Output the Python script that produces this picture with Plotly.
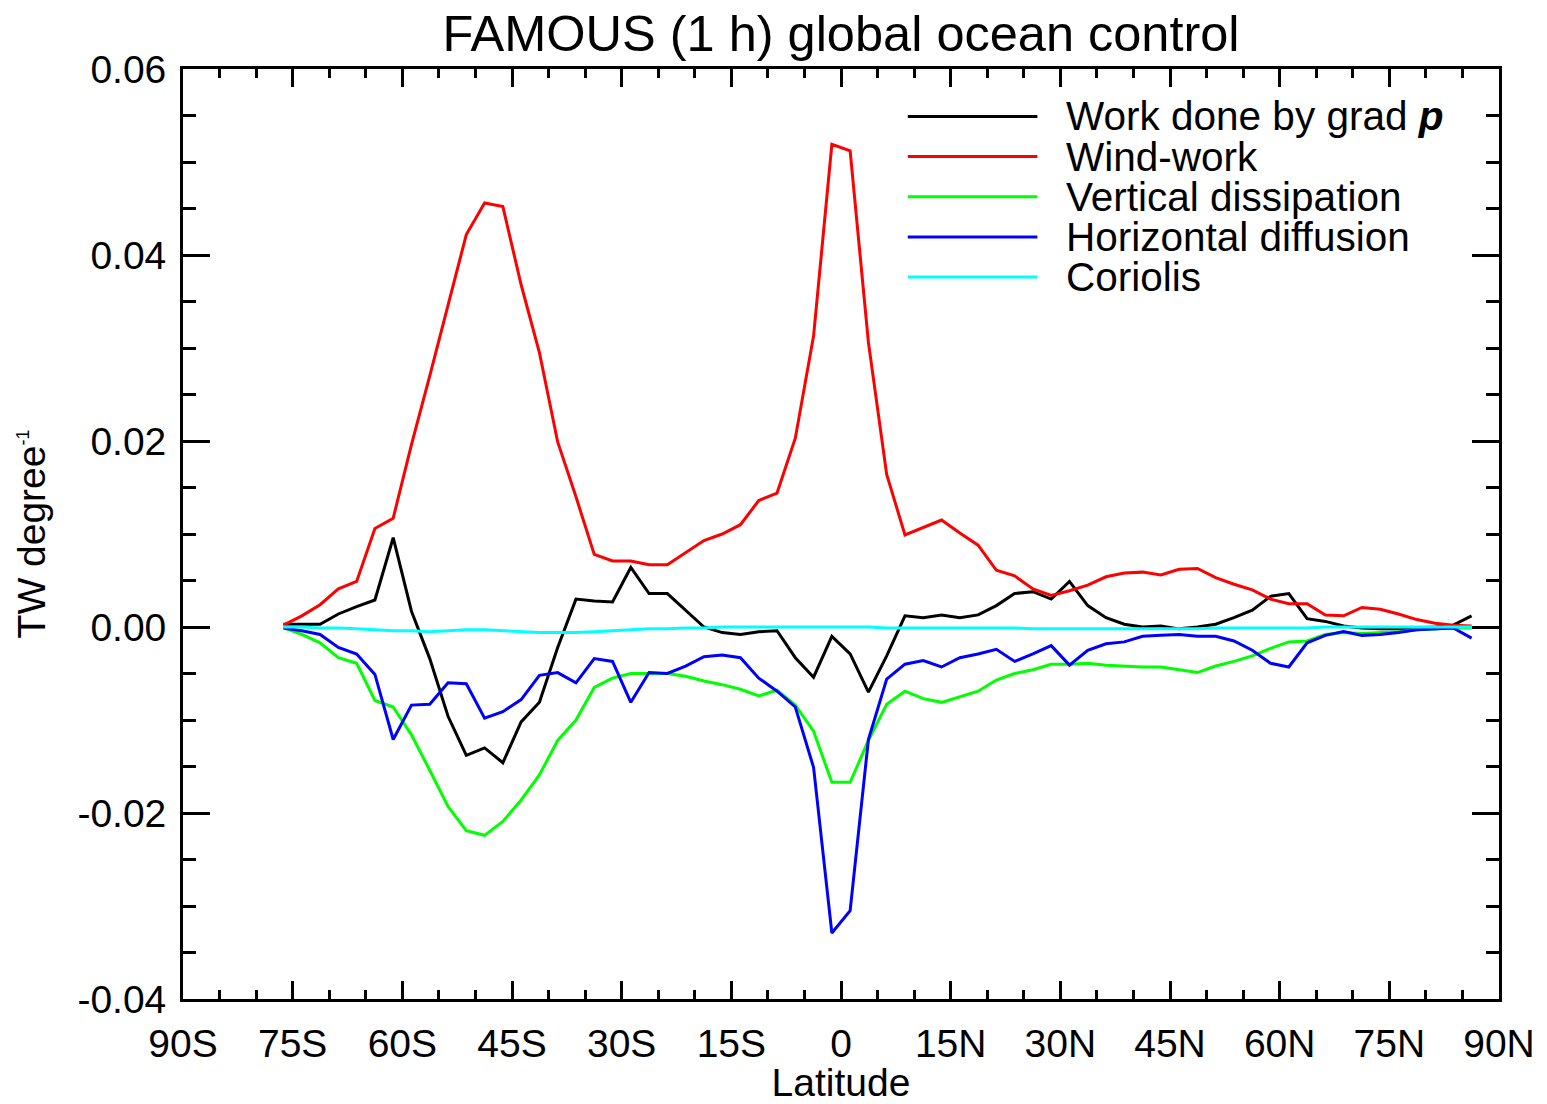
import plotly.graph_objects as go

# Latitudes of the FAMOUS ocean rows (2.5 degree spacing)
lats = [-76.25 + 2.5 * i for i in range(66)]

grad_p = [0.0003, 0.0003, 0.0003, 0.0014, 0.0022, 0.0029, 0.0096, 0.0017, -0.0034, -0.0096,
          -0.0138, -0.0130, -0.0146, -0.0102, -0.0081, -0.0022, 0.0030, 0.0028, 0.0027, 0.0064,
          0.0036, 0.0036, 0.0018, 0.0000, -0.0006, -0.0008, -0.0005, -0.0004, -0.0033, -0.0054,
          -0.0010, -0.0029, -0.0070, -0.0031, 0.0012, 0.0010, 0.0013, 0.0010, 0.0013, 0.0023,
          0.0036, 0.0038, 0.0030, 0.0049, 0.0023, 0.0010, 0.0003, 0.0000, 0.0001, -0.0002,
          0.0000, 0.0003, 0.0010, 0.0018, 0.0033, 0.0036, 0.0009, 0.0006, 0.0001, -0.0001,
          -0.0002, -0.0002, -0.0001, 0.0000, 0.0002, 0.0012]

wind_work = [0.0002, 0.0012, 0.0024, 0.0041, 0.0049, 0.0106, 0.0117, 0.0196, 0.0270, 0.0347,
             0.0422, 0.0456, 0.0452, 0.0368, 0.0295, 0.0199, 0.0140, 0.0078, 0.0071, 0.0071,
             0.0067, 0.0067, 0.0080, 0.0093, 0.0100, 0.0110, 0.0136, 0.0144, 0.0203, 0.0313,
             0.0519, 0.0512, 0.0306, 0.0164, 0.0099, 0.0107, 0.0115, 0.0101, 0.0088, 0.0061,
             0.0055, 0.0041, 0.0034, 0.0039, 0.0045, 0.0054, 0.0058, 0.0059, 0.0056, 0.0062,
             0.0063, 0.0053, 0.0046, 0.0040, 0.0030, 0.0025, 0.0025, 0.0013, 0.0012, 0.0021,
             0.0019, 0.0014, 0.0008, 0.0004, 0.0002, 0.0001]

vert_diss = [-0.0001, -0.0008, -0.0017, -0.0033, -0.0039, -0.0079, -0.0086, -0.0116, -0.0154, -0.0193,
             -0.0219, -0.0224, -0.0209, -0.0186, -0.0159, -0.0122, -0.0100, -0.0065, -0.0055, -0.0050,
             -0.0050, -0.0050, -0.0053, -0.0058, -0.0062, -0.0067, -0.0074, -0.0068, -0.0084, -0.0112,
             -0.0167, -0.0167, -0.0122, -0.0083, -0.0069, -0.0077, -0.0081, -0.0075, -0.0069, -0.0057,
             -0.0050, -0.0046, -0.0040, -0.0040, -0.0039, -0.0041, -0.0042, -0.0043, -0.0043, -0.0046,
             -0.0049, -0.0042, -0.0037, -0.0031, -0.0023, -0.0016, -0.0015, -0.0008, -0.0006, -0.0007,
             -0.0006, -0.0005, -0.0003, -0.0002, -0.0001, -0.0001]

horiz_diff = [-0.0001, -0.0004, -0.0008, -0.0022, -0.0029, -0.0051, -0.0121, -0.0084, -0.0083, -0.0060,
              -0.0061, -0.0098, -0.0091, -0.0078, -0.0052, -0.0049, -0.0060, -0.0034, -0.0037, -0.0081,
              -0.0049, -0.0050, -0.0042, -0.0032, -0.0030, -0.0033, -0.0055, -0.0069, -0.0086, -0.0151,
              -0.0329, -0.0305, -0.0121, -0.0056, -0.0040, -0.0036, -0.0043, -0.0033, -0.0029, -0.0024,
              -0.0037, -0.0029, -0.0020, -0.0041, -0.0025, -0.0018, -0.0016, -0.0010, -0.0009, -0.0008,
              -0.0010, -0.0010, -0.0015, -0.0025, -0.0039, -0.0043, -0.0017, -0.0009, -0.0005, -0.0009,
              -0.0008, -0.0006, -0.0003, -0.0002, -0.0001, -0.0012]

coriolis = [0.0000, 0.0000, -0.0001, -0.0001, -0.0002, -0.0003, -0.0004, -0.0004, -0.0005, -0.0004,
            -0.0003, -0.0003, -0.0004, -0.0005, -0.0006, -0.0006, -0.0006, -0.0005, -0.0004, -0.0003,
            -0.0002, -0.0002, -0.0001, -0.0001, 0.0000, 0.0000, 0.0000, 0.0000, 0.0000, 0.0000,
            0.0000, 0.0000, 0.0000, -0.0001, -0.0001, -0.0001, -0.0001, -0.0001, -0.0001, -0.0001,
            -0.0001, -0.0002, -0.0002, -0.0002, -0.0002, -0.0002, -0.0002, -0.0002, -0.0002, -0.0002,
            -0.0002, -0.0001, -0.0001, -0.0001, -0.0001, -0.0001, -0.0001, 0.0000, 0.0000, 0.0000,
            0.0000, 0.0000, 0.0000, 0.0000, 0.0000, 0.0000]

series_names = ["Work done by grad <b><i>p</i></b>", "Wind-work", "Vertical dissipation",
                "Horizontal diffusion", "Coriolis"]
series_colors = ["#000000", "#ff0000", "#00ff00", "#0000ff", "#00ffff"]

x_tickvals = [-90, -75, -60, -45, -30, -15, 0, 15, 30, 45, 60, 75, 90]
x_ticktext = ["90S", "75S", "60S", "45S", "30S", "15S", "0", "15N", "30N", "45N", "60N", "75N", "90N"]
y_tickvals = [-0.04, -0.02, 0.0, 0.02, 0.04, 0.06]
y_ticktext = ["-0.04", "-0.02", "0.00", "0.02", "0.04", "0.06"]

FONT = "Liberation Sans, Arial, Helvetica, sans-serif"
FS = 39

fig = go.Figure()
all_series = [grad_p, wind_work, vert_diss, horiz_diff, coriolis]
for vals, name, col in zip(all_series, series_names, series_colors):
    fig.add_trace(go.Scatter(x=lats, y=vals, mode="lines", name=name,
                             line=dict(color=col, width=3), showlegend=False))

# Manual legend (line samples + labels)
leg_y0 = 0.949   # paper y of first entry
leg_dy = 40.3 / 933.0
for i, (name, col) in enumerate(zip(series_names, series_colors)):
    yy = leg_y0 - i * leg_dy
    fig.add_shape(type="line", xref="paper", yref="paper",
                  x0=(910 - 183) / 1320, x1=(1040 - 183) / 1320, y0=yy, y1=yy,
                  line=dict(color=col, width=3))
    fig.add_annotation(xref="paper", yref="paper", x=(1067 - 183) / 1320, y=yy,
                       xanchor="left", yanchor="middle", text=name, showarrow=False,
                       font=dict(family=FONT, size=40.5, color="black"))

axis_common = dict(showline=True, linecolor="black", linewidth=2.8, mirror="allticks",
                   ticks="inside", tickcolor="black", showgrid=False, zeroline=False,
                   tickfont=dict(family=FONT, size=FS, color="black"))

fig.update_xaxes(range=[-90, 90], tickvals=x_tickvals, ticktext=x_ticktext,
                 ticklen=18, tickwidth=2.8,
                 minor=dict(dtick=5, tick0=0, ticks="inside", ticklen=9, tickwidth=2.8,
                            tickcolor="black", showgrid=False),
                 title=dict(text="Latitude", font=dict(family=FONT, size=FS, color="black"),
                            standoff=0),
                 ticklabelstandoff=8,
                 **axis_common)
fig.update_yaxes(range=[-0.04, 0.06], tickvals=y_tickvals, ticktext=y_ticktext,
                 ticklen=27, tickwidth=2.8,
                 minor=dict(dtick=0.005, tick0=0, ticks="inside", ticklen=13, tickwidth=2.8,
                            tickcolor="black", showgrid=False),
                 title=dict(text="TW degree<sup><span style='font-size:18px'>-1</span></sup>",
                            font=dict(family=FONT, size=FS, color="black"), standoff=20),
                 ticklabelstandoff=6,
                 **axis_common)

fig.update_layout(
    width=1547, height=1104,
    margin=dict(l=183, r=44, t=69, b=102),
    paper_bgcolor="white", plot_bgcolor="white",
    title=dict(text="FAMOUS (1 h) global ocean control", xref="paper", x=0.5,
               xanchor="center", yref="container", y=1 - 33 / 1104, yanchor="middle",
               font=dict(family=FONT, size=50.5, color="black")),
    font=dict(family=FONT, size=FS, color="black"),
    showlegend=False,
)

fig.write_html("out.html")
